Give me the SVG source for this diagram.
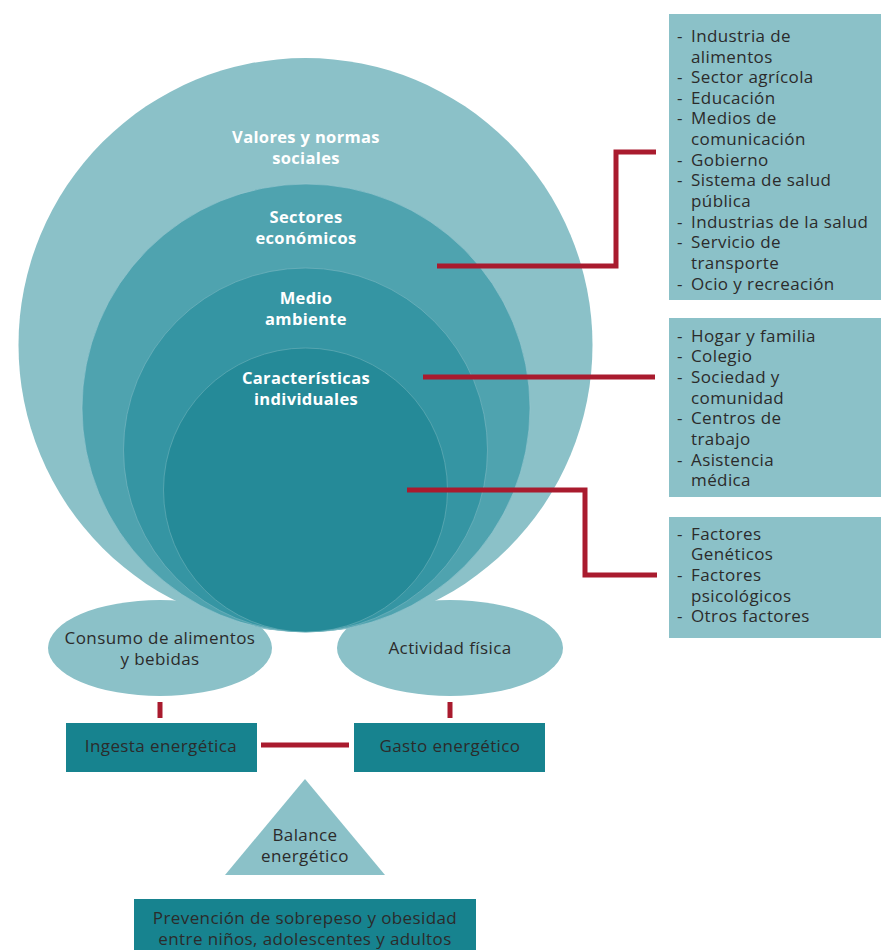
<svg xmlns="http://www.w3.org/2000/svg" width="881" height="950" viewBox="0 0 881 950">
<style>
.lt{fill:#8BC1C8}
.dk{fill:#17838F}
.t{font-family:"Open Sans","Liberation Sans",sans-serif;font-size:17px;letter-spacing:0.4px;fill:#2b2b2b}
.m{text-anchor:middle}
.b{font-family:"Open Sans","Liberation Sans",sans-serif;font-size:16.5px;letter-spacing:0.35px;font-weight:bold;fill:#fff;text-anchor:middle}
.c{fill:none;stroke:#A91B2E;stroke-width:5}
</style>
<rect width="881" height="950" fill="#fff"/>
<g id="ellipse-consumo">
<ellipse class="lt" cx="160" cy="648" rx="112" ry="48"/>
<text class="t m" x="160" y="644">Consumo de alimentos</text>
<text class="t m" x="160" y="665">y bebidas</text>
</g>
<g id="ellipse-actividad">
<ellipse class="lt" cx="450" cy="648" rx="113" ry="48"/>
<text class="t m" x="450" y="654">Actividad física</text>
</g>
<g id="circles">
<circle cx="305.5" cy="345" r="287" fill="#8BC1C8"/>
<circle cx="306" cy="408" r="224" fill="#4FA3AF" stroke="#9CCAD1" stroke-width="0.6"/>
<circle cx="305.5" cy="450" r="182" fill="#3595A3" stroke="#7DB9C2" stroke-width="0.6"/>
<circle cx="305.5" cy="490" r="142" fill="#258A98" stroke="#6FB1BA" stroke-width="0.6"/>
<text class="b" x="306" y="143">Valores y normas</text>
<text class="b" x="306" y="164">sociales</text>
<text class="b" x="306" y="223">Sectores</text>
<text class="b" x="306" y="244">económicos</text>
<text class="b" x="306" y="304">Medio</text>
<text class="b" x="306" y="325">ambiente</text>
<text class="b" x="306" y="384">Características</text>
<text class="b" x="306" y="405">individuales</text>
</g>
<g id="list-sectores">
<rect class="lt" x="669" y="14" width="212" height="286"/>
<g class="t">
<text y="42"><tspan x="677">-</tspan><tspan x="691">Industria de</tspan></text>
<text x="691" y="63">alimentos</text>
<text y="83"><tspan x="677">-</tspan><tspan x="691">Sector agrícola</tspan></text>
<text y="104"><tspan x="677">-</tspan><tspan x="691">Educación</tspan></text>
<text y="124"><tspan x="677">-</tspan><tspan x="691">Medios de</tspan></text>
<text x="691" y="145">comunicación</text>
<text y="166"><tspan x="677">-</tspan><tspan x="691">Gobierno</tspan></text>
<text y="186"><tspan x="677">-</tspan><tspan x="691">Sistema de salud</tspan></text>
<text x="691" y="207">pública</text>
<text y="228"><tspan x="677">-</tspan><tspan x="691">Industrias de la salud</tspan></text>
<text y="248"><tspan x="677">-</tspan><tspan x="691">Servicio de</tspan></text>
<text x="691" y="269">transporte</text>
<text y="290"><tspan x="677">-</tspan><tspan x="691">Ocio y recreación</tspan></text>
</g>
</g>
<g id="list-medio">
<rect class="lt" x="669" y="318" width="212" height="179"/>
<g class="t">
<text y="342"><tspan x="677">-</tspan><tspan x="691">Hogar y familia</tspan></text>
<text y="362"><tspan x="677">-</tspan><tspan x="691">Colegio</tspan></text>
<text y="383"><tspan x="677">-</tspan><tspan x="691">Sociedad y</tspan></text>
<text x="691" y="404">comunidad</text>
<text y="424"><tspan x="677">-</tspan><tspan x="691">Centros de</tspan></text>
<text x="691" y="445">trabajo</text>
<text y="466"><tspan x="677">-</tspan><tspan x="691">Asistencia</tspan></text>
<text x="691" y="486">médica</text>
</g>
</g>
<g id="list-individual">
<rect class="lt" x="669" y="517" width="212" height="121"/>
<g class="t">
<text y="540"><tspan x="677">-</tspan><tspan x="691">Factores</tspan></text>
<text x="691" y="560">Genéticos</text>
<text y="581"><tspan x="677">-</tspan><tspan x="691">Factores</tspan></text>
<text x="691" y="602">psicológicos</text>
<text y="622"><tspan x="677">-</tspan><tspan x="691">Otros factores</tspan></text>
</g>
</g>
<g id="box-ingesta">
<rect class="dk" x="66" y="723" width="191" height="49"/>
<text class="t m" x="161" y="752">Ingesta energética</text>
</g>
<g id="box-gasto">
<rect class="dk" x="354" y="723" width="191" height="49"/>
<text class="t m" x="450" y="752">Gasto energético</text>
</g>
<g id="balance">
<polygon class="lt" points="305,779 385,875 225,875"/>
<text class="t m" x="305" y="841">Balance</text>
<text class="t m" x="305" y="862">energético</text>
</g>
<g id="box-prevencion">
<rect class="dk" x="134" y="899" width="342" height="51"/>
<text class="t m" x="305" y="924">Prevención de sobrepeso y obesidad</text>
<text class="t m" x="305" y="945">entre niños, adolescentes y adultos</text>
</g>
<g id="connectors">
<polyline class="c" points="437,266 616,266 616,152 656,152"/>
<line class="c" x1="423" y1="377" x2="655" y2="377"/>
<polyline class="c" points="407,490 585,490 585,575 657,575"/>
<line class="c" x1="160" y1="702" x2="160" y2="718"/>
<line class="c" x1="450" y1="702" x2="450" y2="718"/>
<line class="c" x1="261" y1="745" x2="349" y2="745" stroke-width="6"/>
</g>
</svg>
